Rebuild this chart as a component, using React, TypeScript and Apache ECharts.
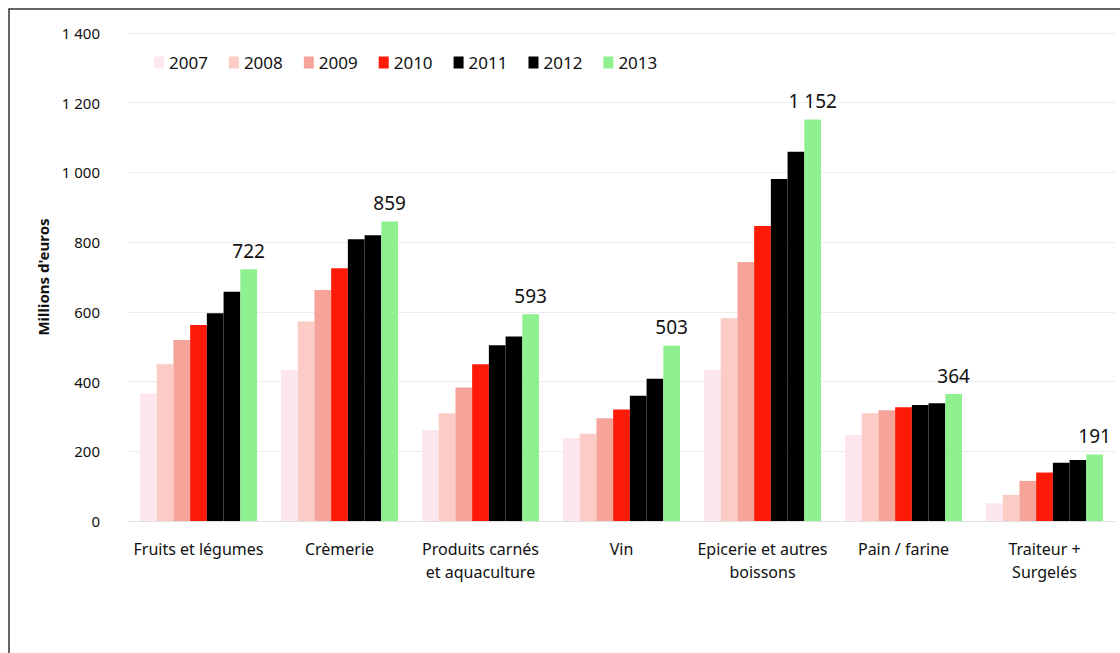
import React, { useEffect, useRef } from "react";
import * as echarts from "echarts";

const categories = [
  "Fruits et légumes",
  "Crèmerie",
  "Produits carnés\net aquaculture",
  "Vin",
  "Epicerie et autres\nboissons",
  "Pain / farine",
  "Traiteur +\nSurgelés",
];

const years = ["2007", "2008", "2009", "2010", "2011", "2012", "2013"];

const v2007 = [366, 433, 261, 238, 433, 247, 51];
const v2008 = [450, 572, 309, 250, 582, 309, 75];
const v2009 = [519, 663, 383, 295, 743, 318, 115];
const v2010 = [562, 725, 450, 320, 846, 326, 139];
const v2011 = [596, 808, 504, 359, 981, 333, 167];
const v2012 = [658, 820, 529, 408, 1059, 338, 175];
const v2013 = [722, 859, 593, 503, 1152, 364, 191];

const seriesValues = [v2007, v2008, v2009, v2010, v2011, v2012, v2013];
const colors = ["#fde6ee", "#fbcbc6", "#f6a39a", "#fe1a06", "#000000", "#000000", "#8ef08e"];

const fmt = (n: number) => String(Math.round(n)).replace(/\B(?=(\d{3})+(?!\d))/g, " ");

export default function App() {
  const ref = useRef<HTMLDivElement>(null);
  useEffect(() => {
    if (!ref.current) return;
    const chart = echarts.init(ref.current, undefined, { renderer: "svg" });
    const font = "'Noto Sans', 'Open Sans', sans-serif";
    const ink = "#111111";
    chart.setOption({
      animation: false,
      backgroundColor: "#ffffff",
      textStyle: { fontFamily: font },
      grid: { left: 128, right: 5, top: 33, bottom: 132 },
      legend: {
        left: 149,
        top: 49,
        itemWidth: 10,
        itemHeight: 12,
        itemGap: 21,
        icon: "rect",
        textStyle: { fontSize: 17, color: ink, fontFamily: font },
        data: years,
      },
      xAxis: {
        type: "category",
        data: categories,
        axisTick: { show: false },
        axisLine: { show: true, lineStyle: { color: "#e0e0e0" } },
        axisLabel: {
          interval: 0,
          margin: 16,
          fontSize: 16,
          lineHeight: 23,
          color: ink,
          fontFamily: font,
        },
      },
      yAxis: {
        type: "value",
        min: 0,
        max: 1400,
        interval: 200,
        name: "Millions d'euros",
        nameLocation: "middle",
        nameGap: 74,
        nameRotate: 90,
        nameTextStyle: { fontSize: 15, fontWeight: "bold", color: ink, fontFamily: font },
        axisLine: { show: false },
        axisTick: { show: false },
        axisLabel: {
          margin: 28,
          fontSize: 15,
          color: ink,
          fontFamily: font,
          formatter: (v: number) => fmt(v),
        },
        splitLine: { lineStyle: { color: "#ececec" } },
      },
      series: years.map((y, i) => ({
        name: y,
        type: "bar",
        data: seriesValues[i],
        barGap: "0%",
        barCategoryGap: "17%",
        itemStyle: { color: colors[i] },
        label:
          i === years.length - 1
            ? {
                show: true,
                position: "top",
                distance: 9,
                fontSize: 19,
                color: ink,
                fontFamily: font,
                formatter: (p: any) => fmt(p.value),
              }
            : { show: false },
      })),
      graphic: [
        {
          type: "rect",
          shape: { x: 9, y: 9, width: 1140, height: 700 },
          style: { fill: "none", stroke: "#333333", lineWidth: 1.5 },
          silent: true,
        },
      ],
    });
    return () => chart.dispose();
  }, []);
  return (
    <div
      ref={ref}
      style={{ position: "absolute", left: 0, top: 0, width: 1120, height: 653 }}
    />
  );
}
